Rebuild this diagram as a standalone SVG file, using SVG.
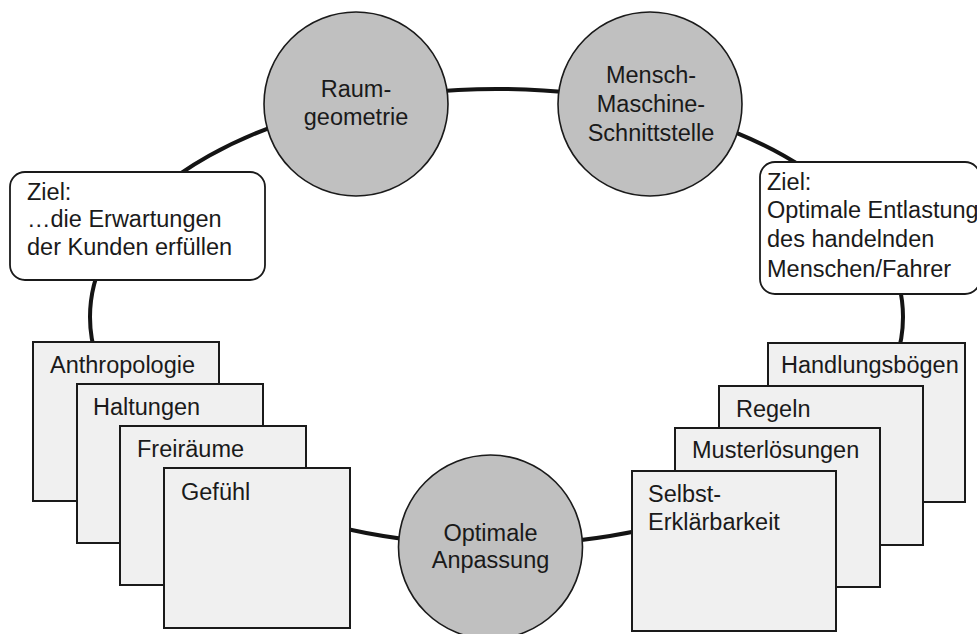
<svg xmlns="http://www.w3.org/2000/svg" width="977" height="634" viewBox="0 0 977 634">
  <style>
    text { font-family: "Liberation Sans", Arial, sans-serif; font-size: 23.5px; fill: #1a1a1a; }
    .ring { fill: none; stroke: #141414; stroke-width: 4; }
    .hub { fill: #c0c0c0; stroke: #1a1a1a; stroke-width: 1.6; }
    .card { fill: #f0f0f0; stroke: #1a1a1a; stroke-width: 2; }
    .goal { fill: #ffffff; stroke: #1a1a1a; stroke-width: 1.8; }
    .mid { text-anchor: middle; }
  </style>

  <!-- connecting ring -->
  <g id="connectors">
    <ellipse class="ring" cx="496.5" cy="317" rx="406.5" ry="228"/>
  </g>

  <!-- goal callouts -->
  <g id="goal-left">
    <rect class="goal" x="10" y="172" width="255" height="108" rx="15"/>
    <text x="27" y="200">Ziel:</text>
    <text x="27" y="227">…die Erwartungen</text>
    <text x="27" y="255">der Kunden erfüllen</text>
  </g>
  <g id="goal-right">
    <rect class="goal" x="760" y="162" width="220" height="132" rx="15"/>
    <text x="767" y="190">Ziel:</text>
    <text x="767" y="218">Optimale Entlastung</text>
    <text x="767" y="247">des handelnden</text>
    <text x="767" y="277">Menschen/Fahrer</text>
  </g>

  <!-- hub circles -->
  <g id="raumgeometrie">
    <circle class="hub" cx="356" cy="104" r="92"/>
    <text class="mid" x="356" y="97">Raum-</text>
    <text class="mid" x="356" y="125">geometrie</text>
  </g>
  <g id="mensch-maschine">
    <circle class="hub" cx="650" cy="104" r="92"/>
    <text class="mid" x="651" y="83">Mensch-</text>
    <text class="mid" x="651" y="112">Maschine-</text>
    <text class="mid" x="651" y="141">Schnittstelle</text>
  </g>
  <g id="optimale-anpassung">
    <circle class="hub" cx="490.5" cy="547" r="92"/>
    <text class="mid" x="490.5" y="541">Optimale</text>
    <text class="mid" x="490.5" y="568">Anpassung</text>
  </g>

  <!-- left card stack -->
  <g id="anthropologie">
    <rect class="card" x="33" y="342" width="186" height="159"/>
    <text x="50" y="373">Anthropologie</text>
  </g>
  <g id="haltungen">
    <rect class="card" x="77" y="384" width="186" height="159"/>
    <text x="93" y="415">Haltungen</text>
  </g>
  <g id="freiraeume">
    <rect class="card" x="120" y="426" width="186" height="159"/>
    <text x="137" y="457">Freiräume</text>
  </g>
  <g id="gefuehl">
    <rect class="card" x="164" y="468" width="186" height="160"/>
    <text x="181" y="500">Gefühl</text>
  </g>

  <!-- right card stack -->
  <g id="handlungsboegen">
    <rect class="card" x="768" y="343" width="197" height="159"/>
    <text x="781" y="373">Handlungsbögen</text>
  </g>
  <g id="regeln">
    <rect class="card" x="719" y="386" width="204" height="159"/>
    <text x="736" y="417">Regeln</text>
  </g>
  <g id="musterloesungen">
    <rect class="card" x="675" y="428" width="205" height="159"/>
    <text x="692" y="458">Musterlösungen</text>
  </g>
  <g id="selbsterklaerbarkeit">
    <rect class="card" x="632" y="471" width="204" height="160"/>
    <text x="648" y="502">Selbst-</text>
    <text x="648" y="530">Erklärbarkeit</text>
  </g>
</svg>
